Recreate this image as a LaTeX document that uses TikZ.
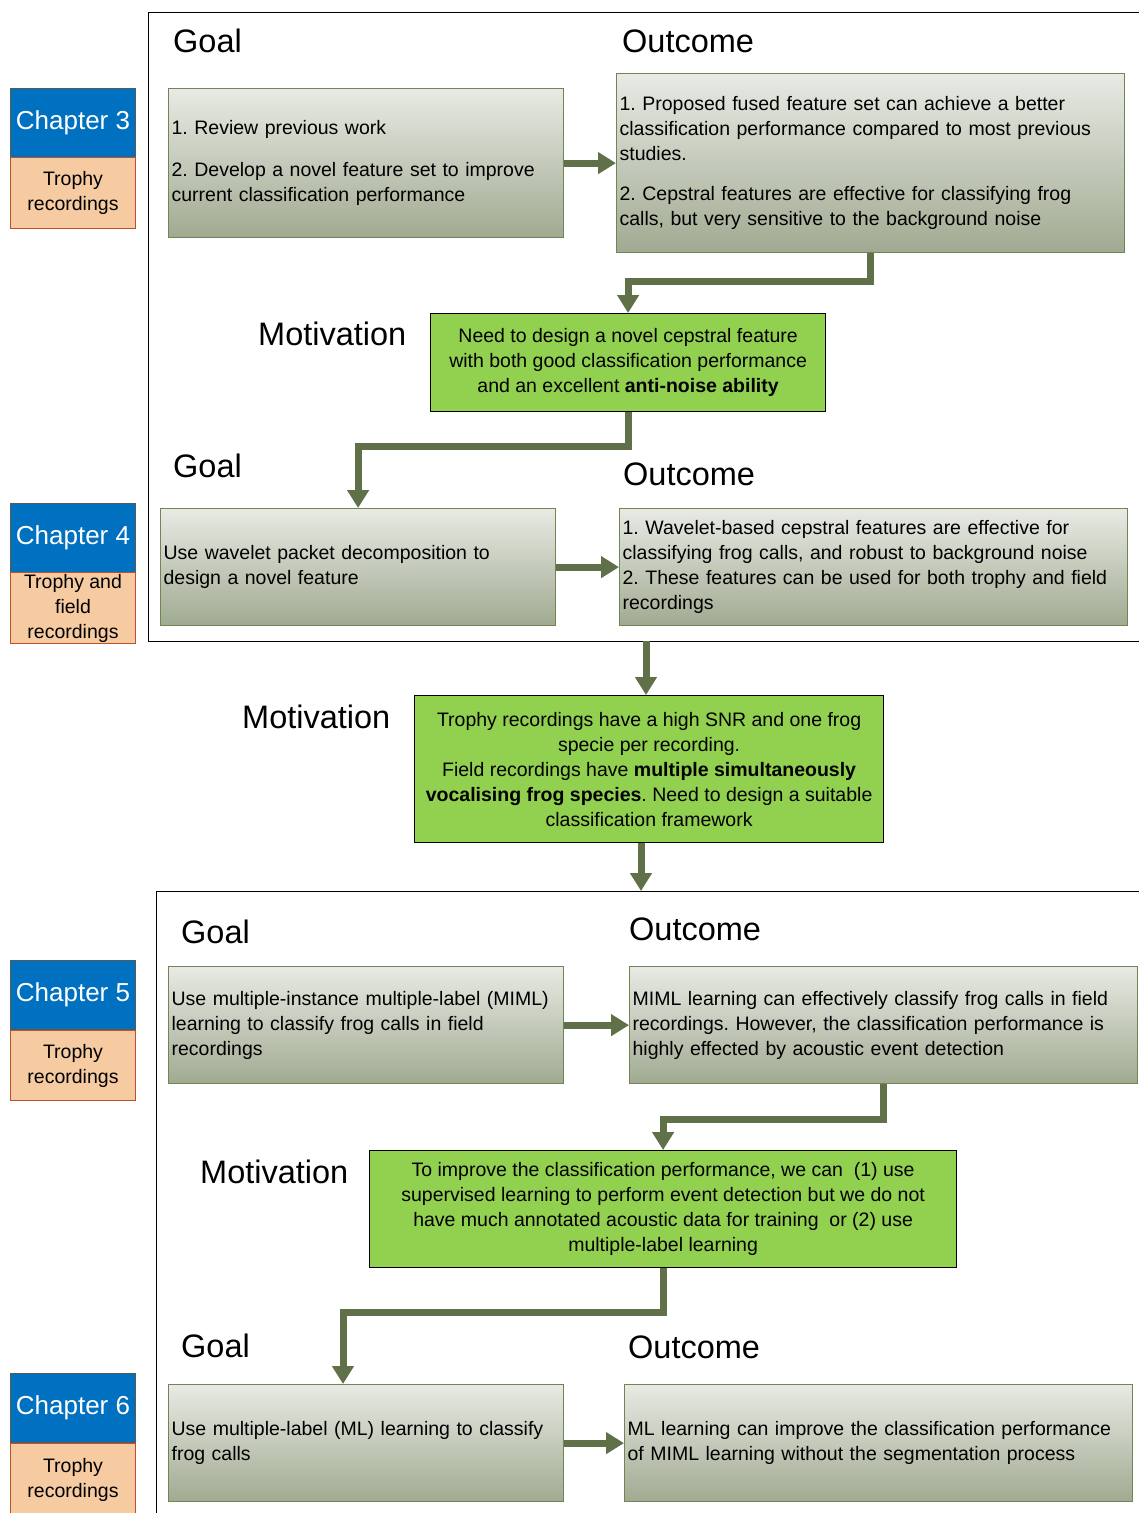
\documentclass[tikz,border=0pt]{standalone}
\usepackage{fontspec}
\setmainfont{Liberation Sans}
\usetikzlibrary{arrows.meta}
\frenchspacing
\definecolor{arrowc}{RGB}{96,112,72}
\definecolor{gborder}{RGB}{112,132,84}
\definecolor{gtop}{RGB}{232,234,228}
\definecolor{gbot}{RGB}{160,170,145}
\definecolor{motiv}{RGB}{146,208,80}
\definecolor{chblue}{RGB}{0,112,192}
\definecolor{chblueb}{RGB}{90,90,80}
\definecolor{peach}{RGB}{246,203,162}
\definecolor{peachb}{RGB}{192,80,40}
\newcommand{\bodyfont}{\fontsize{19.5}{25}\selectfont\frenchspacing}
\newcommand{\headfont}{\fontsize{32.5}{36}\selectfont}
\tikzset{
  gbox/.style={draw=gborder, line width=1.2pt, top color=gtop, bottom color=gbot,
    anchor=north west, inner xsep=3pt, inner ysep=0pt, align=left, font=\bodyfont},
  mbox/.style={draw=black, line width=1.2pt, fill=motiv, anchor=north west,
    inner sep=0pt, align=center, font=\bodyfont},
  chbox/.style={draw=chblueb, line width=1pt, fill=chblue, text=white, anchor=north west,
    inner sep=0pt, minimum width=125pt, minimum height=69pt, font=\fontsize{26}{30}\selectfont},
  recbox/.style={draw=peachb, line width=1pt, fill=peach, anchor=north west,
    inner sep=0pt, minimum width=125pt, align=center, font=\bodyfont},
  head/.style={anchor=west, inner sep=0pt, font=\headfont},
  arr/.style={draw=arrowc, line width=7pt, -{Triangle[length=18pt,width=21pt]}},
  frame/.style={draw=black, line width=1pt}
}
\begin{document}
\begin{tikzpicture}[x=1pt,y=-1pt]
\useasboundingbox (0,0) rectangle (1139,1513);
% frames
\draw[frame] (1139,12) -- (148,12) -- (148,641) -- (1139,641);
\draw[frame] (1139,891) -- (156,891) -- (156,1513);

% chapter boxes
\node[chbox] (ch3) at (10,88) {Chapter 3};
\node[recbox, minimum height=71pt] (ch3r) at (10,157) {Trophy\\recordings};
\node[chbox] (ch4) at (10,503) {Chapter 4};
\node[recbox, minimum height=71pt] (ch4r) at (10,572) {Trophy and\\field\\recordings};
\node[chbox] (ch5) at (10,960) {Chapter 5};
\node[recbox, minimum height=70pt] (ch5r) at (10,1030) {Trophy\\recordings};
\node[chbox] (ch6) at (10,1373) {Chapter 6};
\node[recbox, minimum height=73pt] (ch6r) at (10,1443) {Trophy\\recordings};

% headings
\node[head] (goal1) at (173,41) {Goal};
\node[head] (out1) at (622,41) {Outcome};
\node[head] (mot1) at (258,334) {Motivation};
\node[head] (goal2) at (173,466) {Goal};
\node[head] (out2) at (623,474) {Outcome};
\node[head] (mot2) at (242,717) {Motivation};
\node[head] (goal3) at (181,932) {Goal};
\node[head] (out3) at (629,929) {Outcome};
\node[head] (mot3) at (200,1172) {Motivation};
\node[head] (goal4) at (181,1346) {Goal};
\node[head] (out4) at (628,1347) {Outcome};

% chapter 3
\node[gbox, text width=389pt, minimum height=149pt] (g1) at (168,88)
  {1. Review previous work\\[17pt]2. Develop a novel feature set to improve\\current classification performance};
\node[gbox, text width=502pt, minimum height=179pt] (o1) at (616,73)
  {1. Proposed fused feature set can achieve a better\\classification performance compared to most previous\\studies.\\[15pt]2. Cepstral features are effective for classifying frog\\calls, but very sensitive to the background noise};
\node[mbox, minimum width=395pt, minimum height=98pt] (m1) at (430,313)
  {Need to design a novel cepstral feature\\with both good classification performance\\and an excellent \textbf{anti-noise ability}};

% chapter 4
\node[gbox, text width=389pt, minimum height=117pt] (g2) at (160,508)
  {Use wavelet packet decomposition to\\design a novel feature};
\node[gbox, text width=502pt, minimum height=117pt] (o2) at (619,508)
  {1. Wavelet-based cepstral features are effective for\\classifying frog calls, and robust to background noise\\2. These features can be used for both trophy and field\\recordings};

\node[mbox, minimum width=469pt, minimum height=147pt] (m2) at (414,695)
  {Trophy recordings have a high SNR and one frog\\specie per recording.\\Field recordings have \textbf{multiple simultaneously}\\\textbf{vocalising frog species}. Need to design a suitable\\classification framework};

% chapter 5
\node[gbox, text width=389pt, minimum height=117pt] (g3) at (168,966)
  {Use multiple-instance multiple-label (MIML)\\learning to classify frog calls in field\\recordings};
\node[gbox, text width=502pt, minimum height=117pt] (o3) at (629,966)
  {MIML learning can effectively classify frog calls in field\\recordings. However, the classification performance is\\highly effected by acoustic event detection};
\node[mbox, minimum width=587pt, minimum height=117pt] (m3) at (369,1150)
  {To improve the classification performance, we can~ (1) use\\supervised learning to perform event detection but we do not\\have much annotated acoustic data for training~ or (2) use\\multiple-label learning};

% chapter 6
\node[gbox, text width=389pt, minimum height=117pt] (g4) at (168,1384)
  {Use multiple-label (ML) learning to classify\\frog calls};
\node[gbox, text width=502pt, minimum height=117pt] (o4) at (624,1384)
  {ML learning can improve the classification performance\\of MIML learning without the segmentation process};

% connectors
\draw[arr] (g1.east) -- (o1.west);
\draw[arr] (o1.south) -- ++(0,28) -| (m1.north);
\draw[arr] (m1.south) -- ++(0,34) -| (g2.north);
\draw[arr] (g2.east) -- (o2.west);
\coordinate (f1) at (646,641);
\draw[arr] (f1) -- (f1 |- m2.north);
\coordinate (f2) at (641,891);
\draw[arr] (f2 |- m2.south) -- (f2);
\draw[arr] (g3.east) -- (o3.west);
\draw[arr] (o3.south) -- ++(0,35) -| (m3.north);
\coordinate (g4in) at (343,1384);
\draw[arr] (m3.south) -- ++(0,44) -| (g4in);
\draw[arr] (g4.east) -- (o4.west);
\end{tikzpicture}
\end{document}
